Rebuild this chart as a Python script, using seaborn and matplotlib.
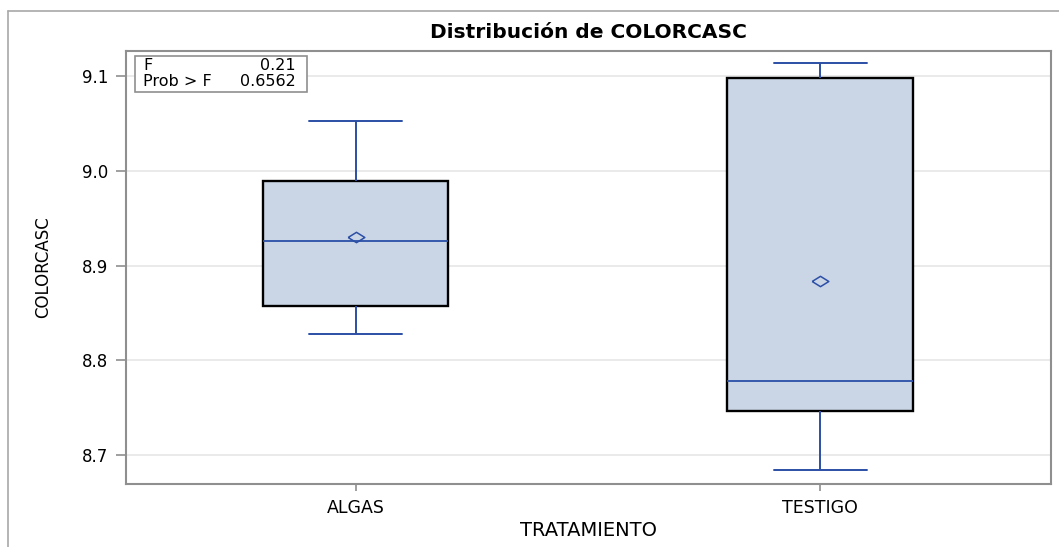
import pandas as pd
import numpy as np
import matplotlib
matplotlib.use("Agg")
import matplotlib.pyplot as plt
from matplotlib.lines import Line2D
import seaborn as sns

algas = [8.828, 8.857, 8.926, 8.989, 9.053]
testigo = [8.684, 8.747, 8.778, 9.098, 9.114]
groups = ["ALGAS", "TESTIGO"]
y_ticks = [8.7, 8.8, 8.9, 9.0, 9.1]
f_value = "0.21"
prob_f = "0.6562"

df = pd.DataFrame({
    "TRATAMIENTO": ["ALGAS"] * len(algas) + ["TESTIGO"] * len(testigo),
    "COLORCASC": algas + testigo,
})

sns.set_style("white")
plt.rcParams["font.family"] = ["DejaVu Sans"]
plt.rcParams["text.color"] = "black"
plt.rcParams["axes.labelcolor"] = "black"

blue = "#2B4FA6"
fill = "#CAD5E5"
grey = "#8F8F8F"

fig = plt.figure(figsize=(10.59, 5.47), dpi=100)
ax = fig.add_axes([0.119, 0.1152, 0.8735, 0.7921])

sns.boxplot(
    data=df, x="TRATAMIENTO", y="COLORCASC", order=groups, ax=ax,
    width=0.4, whis=1.5, showmeans=True, showfliers=False,
    boxprops=dict(facecolor=fill, edgecolor="black", linewidth=1.7),
    whiskerprops=dict(color=blue, linewidth=1.4),
    capprops=dict(color=blue, linewidth=1.4),
    medianprops=dict(color=blue, linewidth=1.3),
    meanprops=dict(marker=[(-1, 0), (0, 0.62), (1, 0), (0, -0.62), (-1, 0)],
                   markerfacecolor="none", markeredgecolor=blue,
                   markersize=12, markeredgewidth=1.1),
)

ax.set_xlim(-0.494, 1.497)
ax.set_ylim(8.6695, 9.127)
ax.set_yticks(y_ticks)
ax.set_yticklabels([f"{t:.1f}" for t in y_ticks])
ax.yaxis.grid(True, color="#E6E6E6", linewidth=1.2, zorder=0)
ax.set_axisbelow(True)

for s in ax.spines.values():
    s.set_color(grey)
    s.set_linewidth(1.5)

ax.tick_params(axis="y", length=7, width=1.2, color=grey, labelcolor="black",
               labelsize=12, pad=6, left=True)
ax.tick_params(axis="x", length=5, width=1.2, color=grey, labelcolor="black",
               labelsize=12.5, pad=6, bottom=True)

ax.set_title("Distribución de COLORCASC", fontsize=14.5, fontweight="bold", pad=9)
ax.set_xlabel("TRATAMIENTO", fontsize=14, labelpad=3)
ax.set_ylabel("COLORCASC", fontsize=12, labelpad=21)

# inset statistics box
ax.text(0.0184, 0.967, "F", transform=ax.transAxes, fontsize=11.5,
        va="center", ha="left", zorder=6)
ax.text(0.0184, 0.928, "Prob > F", transform=ax.transAxes, fontsize=11.5,
        va="center", ha="left", zorder=6)
ax.text(0.1838, 0.967, f_value, transform=ax.transAxes, fontsize=11.5,
        va="center", ha="right", zorder=6)
ax.text(0.1838, 0.928, prob_f, transform=ax.transAxes, fontsize=11.5,
        va="center", ha="right", zorder=6)
ax.add_patch(plt.Rectangle((0.0097, 0.9047), 0.186, 0.0831, transform=ax.transAxes,
                           facecolor="white", edgecolor=grey, linewidth=1.2, zorder=5))

# outer frame
fig.add_artist(Line2D([8 / 1059, 8 / 1059], [0, 1 - 11 / 547], color="#A8A8A8", linewidth=1.2))
fig.add_artist(Line2D([8 / 1059, 1], [1 - 11 / 547, 1 - 11 / 547], color="#A8A8A8", linewidth=1.2))

fig.savefig("out.png", dpi=100)
